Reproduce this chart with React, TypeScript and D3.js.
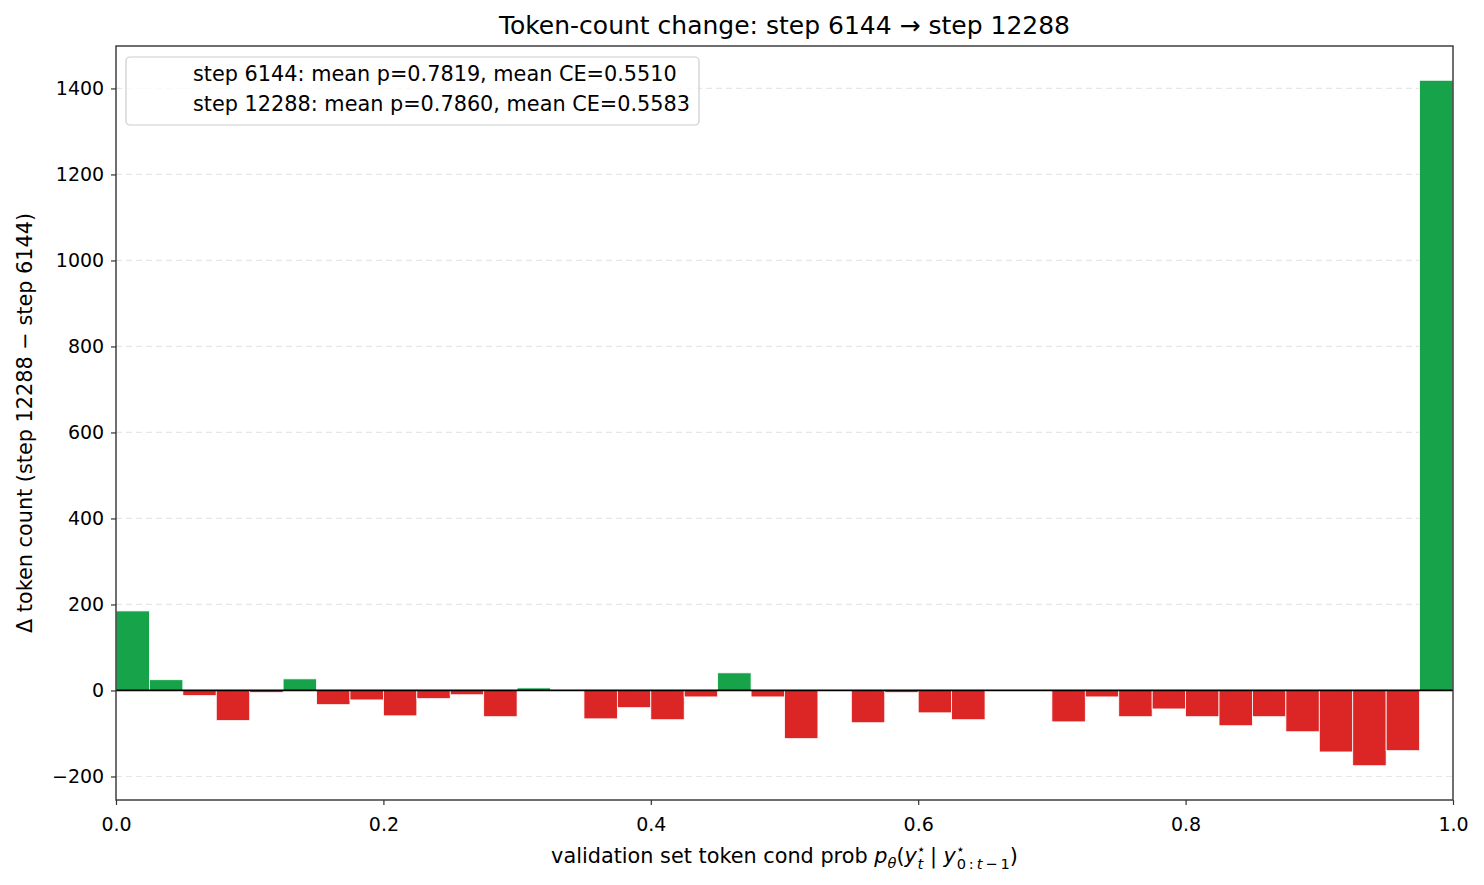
import { useEffect, useRef } from "react"
import * as d3 from "d3"

// 40 bins of width 0.025 over [0, 1]
const binEdges = d3.range(0, 41).map(i => i / 40)
const deltas = [
  185, 25, -12, -70, -5, 27, -33, -22, -59, -19,
  -10, -61, 6, -1, -66, -40, -68, -15, 41, -15,
  -112, 1, -75, -5, -52, -68, -1, 1, -73, -15,
  -61, -43, -61, -82, -61, -96, -143, -175, -140, 1419,
]
const yTicks = [-200, 0, 200, 400, 600, 800, 1000, 1200, 1400]
const xTicks = [0, 0.2, 0.4, 0.6, 0.8, 1.0]
const legendLabels = [
  "step 6144: mean p=0.7819, mean CE=0.5510",
  "step 12288: mean p=0.7860, mean CE=0.5583",
]
const title = "Token-count change: step 6144 \u2192 step 12288"
const yLabel = "\u0394 token count (step 12288 \u2212 step 6144)"

const GREEN = "#16a34a"
const RED = "#dc2626"
const FONT = "'DejaVu Sans', sans-serif"

export default function App() {
  const ref = useRef<SVGSVGElement | null>(null)

  useEffect(() => {
    const svg = d3.select(ref.current)
    svg.selectAll("*").remove()

    const width = 1484
    const height = 885
    const left = 116, right = 1453, top = 46, bottom = 800

    const lo = d3.min(deltas)!
    const hi = d3.max(deltas)!
    const pad = (hi - lo) * 0.05

    const x = d3.scaleLinear().domain([0, 1]).range([left, right])
    const y = d3.scaleLinear().domain([lo - pad, hi + pad]).range([bottom, top])

    svg.attr("width", width).attr("height", height)
      .style("font-family", FONT)

    svg.append("rect").attr("width", width).attr("height", height).attr("fill", "#fff")

    // grid
    svg.append("g")
      .selectAll("line")
      .data(yTicks)
      .enter()
      .append("line")
      .attr("x1", left).attr("x2", right)
      .attr("y1", d => y(d)).attr("y2", d => y(d))
      .attr("stroke", "#e6e6e6")
      .attr("stroke-width", 1.2)
      .attr("stroke-dasharray", "6,4")

    // bars
    const data = deltas.map((v, i) => ({ x0: binEdges[i], x1: binEdges[i + 1], v }))
    svg.append("g")
      .selectAll("rect")
      .data(data)
      .enter()
      .append("rect")
      .attr("x", d => x(d.x0))
      .attr("width", d => x(d.x1) - x(d.x0))
      .attr("y", d => y(Math.max(0, d.v)))
      .attr("height", d => Math.abs(y(d.v) - y(0)))
      .attr("fill", d => d.v >= 0 ? GREEN : RED)
      .attr("stroke", "#fff")
      .attr("stroke-width", 0.8)

    // zero line
    svg.append("line")
      .attr("x1", left).attr("x2", right)
      .attr("y1", y(0)).attr("y2", y(0))
      .attr("stroke", "#000").attr("stroke-width", 1.8)

    // axes
    const xAxis = svg.append("g")
      .attr("transform", `translate(0,${bottom})`)
      .call(d3.axisBottom(x).tickValues(xTicks).tickFormat(d3.format(".1f")).tickSizeOuter(0).tickSize(5))
    const yAxis = svg.append("g")
      .attr("transform", `translate(${left},0)`)
      .call(d3.axisLeft(y).tickValues(yTicks).tickFormat(d3.format("d")).tickSizeOuter(0).tickSize(5))

    ;[xAxis, yAxis].forEach(g => {
      g.select(".domain").remove()
      g.selectAll("line").attr("stroke", "#333").attr("stroke-width", 1.2)
      g.selectAll("text").attr("fill", "#000").style("font-size", "19px").style("font-family", FONT)
    })
    xAxis.selectAll("text").attr("dy", "1.2em")
    yAxis.selectAll("text").attr("dx", "-0.2em")

    // frame
    svg.append("rect")
      .attr("x", left).attr("y", top)
      .attr("width", right - left).attr("height", bottom - top)
      .attr("fill", "none").attr("stroke", "#333").attr("stroke-width", 1.4)

    // title
    svg.append("text")
      .attr("x", (left + right) / 2).attr("y", 34)
      .attr("text-anchor", "middle")
      .style("font-size", "25px")
      .text(title)

    // y label
    svg.append("text")
      .attr("transform", `translate(32,${(top + bottom) / 2}) rotate(-90)`)
      .attr("text-anchor", "middle")
      .style("font-size", "20.8px")
      .text(yLabel)

    // x label with math
    const xl = svg.append("text")
      .attr("x", (left + right) / 2).attr("y", 863)
      .attr("text-anchor", "middle")
      .style("font-size", "20.8px")
    xl.append("tspan").text("validation set token cond prob ")
    xl.append("tspan").attr("font-style", "italic").text("p")
    xl.append("tspan").attr("font-style", "italic").attr("dy", 5).style("font-size", "14.6px").text("\u03b8")
    xl.append("tspan").attr("dy", -5).text("(")
    xl.append("tspan").attr("font-style", "italic").text("y")
    xl.append("tspan").attr("dy", -9).style("font-size", "14px").text("\u22c6")
    xl.append("tspan").attr("dx", -8).attr("dy", 15).attr("font-style", "italic").style("font-size", "14.6px").text("t")
    xl.append("tspan").attr("dy", -6).text(" | ")
    xl.append("tspan").attr("font-style", "italic").text("y")
    xl.append("tspan").attr("dy", -9).style("font-size", "14px").text("\u22c6")
    xl.append("tspan").attr("dx", -8).attr("dy", 15).style("font-size", "14.6px").text("0\u2009:\u2009")
    xl.append("tspan").attr("font-style", "italic").style("font-size", "14.6px").text("t")
    xl.append("tspan").style("font-size", "14.6px").text("\u2009\u2212\u20091")
    xl.append("tspan").attr("dy", -6).text(")")

    // legend
    const lg = svg.append("g")
    lg.append("rect")
      .attr("x", 126).attr("y", 57).attr("width", 573).attr("height", 68)
      .attr("rx", 4)
      .attr("fill", "#fff").attr("fill-opacity", 0.8)
      .attr("stroke", "#ccc").attr("stroke-width", 1.2)
    lg.selectAll("text.lbl")
      .data(legendLabels)
      .enter()
      .append("text")
      .attr("class", "lbl")
      .attr("x", 193)
      .attr("y", (_, i) => 75 + i * 30)
      .attr("dominant-baseline", "middle")
      .style("font-size", "20.8px")
      .text(d => d)
  }, [])

  return <svg ref={ref} style={{ display: "block", margin: "-8px" }} />
}
